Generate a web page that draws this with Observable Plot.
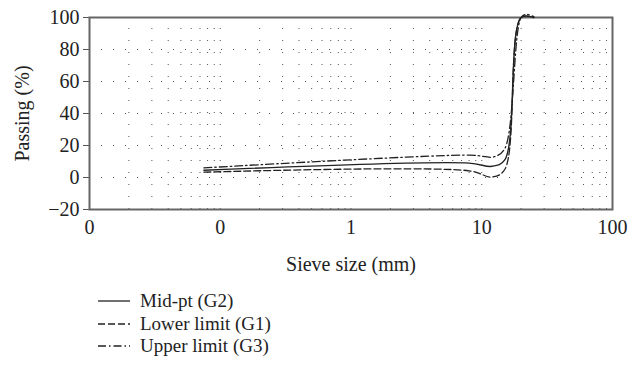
<!DOCTYPE html>
<html>
<head>
<meta charset="utf-8">
<script src="https://cdn.jsdelivr.net/npm/d3@7"></script>
<script src="https://cdn.jsdelivr.net/npm/@observablehq/plot@0.6"></script>
<style>
  html, body { margin: 0; padding: 0; background: #fff; }
  body { width: 637px; height: 377px; overflow: hidden; position: relative; font-family: "Liberation Serif", "Times New Roman", serif; }
  #legend { position: absolute; left: 0; top: 0; }
  .row { position: absolute; left: 97px; display: flex; align-items: center; font-size: 19px; color: #222; white-space: nowrap; line-height: 22px; }
  .row svg { margin-right: 9px; }
</style>
</head>
<body>
<div id="chart"></div>
<div id="legend"></div>
<script>
// Series data (sieve size in mm, passing in %)
const seriesNames = ["Mid-pt (G2)", "Lower limit (G1)", "Upper limit (G3)"];
const midSize = [0.075, 8, 12, 15, 20, 25];
const midPass = [4.5, 9, 7, 11, 100, 100];
const lowSize = [0.075, 8, 12, 15, 20, 25];
const lowPass = [3.3, 4.2, 0.3, 5, 100, 100];
const upSize = [0.075, 8, 12.5, 15, 20, 22, 25];
const upPass = [6, 14, 13, 18, 100, 102, 100.5];

const xTicks = [0.01, 0.1, 1, 10, 100];
const yTicks = [-20, 0, 20, 40, 60, 80, 100];
const xGrid = [];
for (const d of [0.01, 0.1, 1, 10]) for (let k = 2; k <= 10; k++) xGrid.push(+(d * k).toPrecision(3));
const yGrid = [0, 20, 40, 60, 80];

const toRows = (sz, ps) => sz.map((s, i) => ({size: s, pass: ps[i]}));
const mid = toRows(midSize, midPass);
const low = toRows(lowSize, lowPass);
const up = toRows(upSize, upPass);

const font = '"Liberation Serif", "Times New Roman", serif';

const chart = Plot.plot({
  width: 637,
  height: 285,
  marginLeft: 89,
  marginRight: 25,
  marginTop: 17,
  marginBottom: 76,
  style: {fontFamily: font, fontSize: "20px", color: "#222", background: "#fff"},
  x: {type: "log", domain: [0.01, 100]},
  y: {domain: [-20, 100]},
  marks: [
    Plot.ruleX(xGrid, {y1: -20, y2: 100, stroke: "#555", strokeWidth: 1, strokeDasharray: "1,11"}),
    Plot.ruleY(yGrid, {x1: 0.01, x2: 100, stroke: "#555", strokeWidth: 1, strokeDasharray: "1,11"}),
    Plot.axisX({ticks: xTicks, tickFormat: d => d < 1 ? "0" : String(d), tickSize: 0, tickPadding: 10, fontSize: 20, fontFamily: font, label: "Sieve size (mm)", labelAnchor: "center", labelOffset: 61, labelArrow: "none"}),
    Plot.axisY({ticks: yTicks, tickSize: 6, tickPadding: 4, fontSize: 20, fontFamily: font, stroke: "#555", label: "Passing (%)", labelAnchor: "center", labelOffset: 75, labelArrow: "none"}),
    Plot.frame({stroke: "#666", strokeWidth: 2}),
    Plot.line(low, {x: "size", y: "pass", curve: "catmull-rom", stroke: "#222", strokeWidth: 1.3, strokeDasharray: "7,3"}),
    Plot.line(up, {x: "size", y: "pass", curve: "catmull-rom", stroke: "#222", strokeWidth: 1.3, strokeDasharray: "8,3,1.5,3"}),
    Plot.line(mid, {x: "size", y: "pass", curve: "catmull-rom", stroke: "#222", strokeWidth: 1.4})
  ]
});
document.getElementById("chart").appendChild(chart);

// Legend
const dashes = ["none", "7,3", "8,3,1.5,3"];
const rowsY = [301, 323.5, 346];
const legend = document.getElementById("legend");
seriesNames.forEach((name, i) => {
  const row = document.createElement("div");
  row.className = "row";
  row.style.top = (rowsY[i] - 11) + "px";
  row.innerHTML = `<svg width="34" height="22"><line x1="1" y1="11" x2="33" y2="11" stroke="#222" stroke-width="1.3" ${dashes[i] !== "none" ? `stroke-dasharray="${dashes[i]}"` : ""}/></svg><span>${name}</span>`;
  legend.appendChild(row);
});
</script>
</body>
</html>
